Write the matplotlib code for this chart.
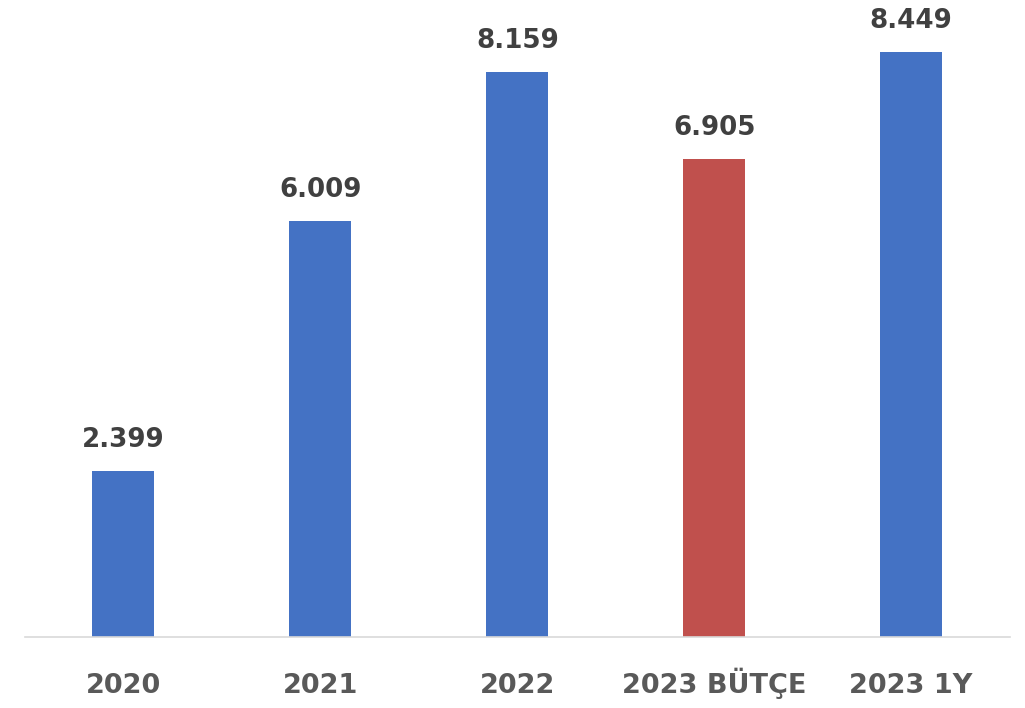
import matplotlib
matplotlib.use("Agg")
import matplotlib.pyplot as plt

categories = ["2020", "2021", "2022", "2023 BÜTÇE", "2023 1Y"]
values = [2.399, 6.009, 8.159, 6.905, 8.449]
labels = ["2.399", "6.009", "8.159", "6.905", "8.449"]
colors = ["#4472C4", "#4472C4", "#4472C4", "#C0504D", "#4472C4"]

fig = plt.figure(figsize=(10.25, 7.08), dpi=100)
ax = fig.add_axes([0.0244, 0.1003, 0.9606, 0.8997])
x = list(range(len(categories)))
bars = ax.bar(x, values, width=0.315, color=colors, zorder=2)
ax.set_xlim(-0.5, 4.5)
ax.set_ylim(0, 9.2)
for b, lab in zip(bars, labels):
    ax.annotate(lab, (b.get_x() + b.get_width() / 2, b.get_height()),
                xytext=(0, 13), textcoords="offset points",
                ha="center", va="bottom", fontsize=18.8,
                fontweight="bold", color="#404040")
ax.set_xticks(x)
ax.set_xticklabels([])
for xi, cat in zip(x, categories):
    ax.annotate(cat, (xi, 0), xycoords=("data", "axes fraction"),
                xytext=(0, -40.3), textcoords="offset points",
                ha="center", va="baseline", fontsize=19.5,
                fontweight="bold", color="#595959")
ax.tick_params(axis="x", length=0)
ax.set_yticks([])
for s in ["top", "right", "left"]:
    ax.spines[s].set_visible(False)
ax.spines["bottom"].set_color("#D9D9D9")
ax.spines["bottom"].set_linewidth(1.2)
fig.savefig("out.png", dpi=100)
